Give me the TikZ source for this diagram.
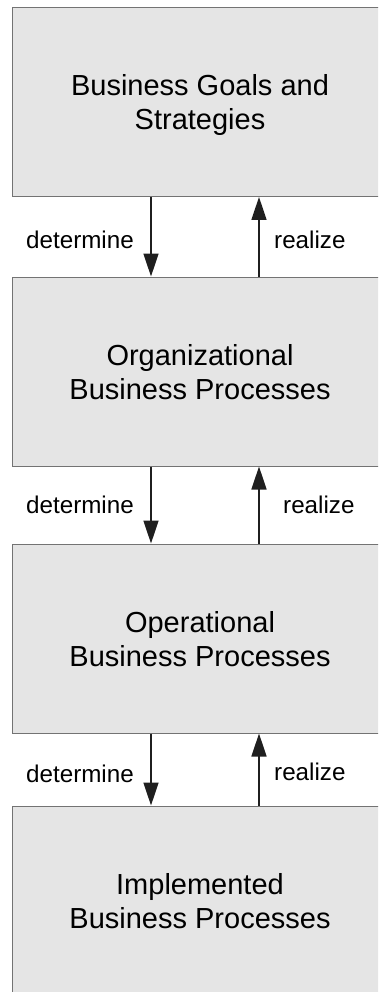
\documentclass[tikz,border=0pt]{standalone}
\usepackage{fontspec}
\setmainfont{Liberation Sans}
\usetikzlibrary{arrows.meta}

\begin{document}
\begin{tikzpicture}[x=1pt,y=-1pt,
  layer/.style={draw=black!55, fill=black!10, line width=1pt, minimum width=376pt, minimum height=189pt, align=center, inner sep=0pt, text depth=0pt, font=\fontsize{29}{34}\selectfont},
  flow/.style={draw=black!88, line width=1.6pt, -{Triangle[length=23pt,width=15pt]}},
  lbl/.style={inner sep=0pt, font=\fontsize{24.2}{28}\selectfont}]
\clip (0,0) rectangle (378,992);
% Boxes
\node[layer] (goals) at (200,102) {Business Goals and\\Strategies};
\node[layer] (org) at (200,371.5) {Organizational\\Business Processes};
\node[layer] (oper) at (200,638.5) {Operational\\Business Processes};
\node[layer] (impl) at (200,900.5) {Implemented\\Business Processes};
% Arrow columns
\coordinate (dn) at (151,0);
\coordinate (up) at (259,0);
% Arrows
\draw[flow] (goals.south -| dn) -- (org.north -| dn);
\draw[flow] (org.north -| up) -- (goals.south -| up);
\draw[flow] (org.south -| dn) -- (oper.north -| dn);
\draw[flow] (oper.north -| up) -- (org.south -| up);
\draw[flow] (oper.south -| dn) -- (impl.north -| dn);
\draw[flow] (impl.north -| up) -- (oper.south -| up);
% Labels
\node[lbl, anchor=base east] (det1) at (134,248) {determine};
\node[lbl, anchor=base west] (rea1) at (274,248) {realize};
\node[lbl, anchor=base east] (det2) at (134,513) {determine};
\node[lbl, anchor=base west] (rea2) at (283,513) {realize};
\node[lbl, anchor=base east] (det3) at (134,782) {determine};
\node[lbl, anchor=base west] (rea3) at (274,780) {realize};
\end{tikzpicture}
\end{document}
